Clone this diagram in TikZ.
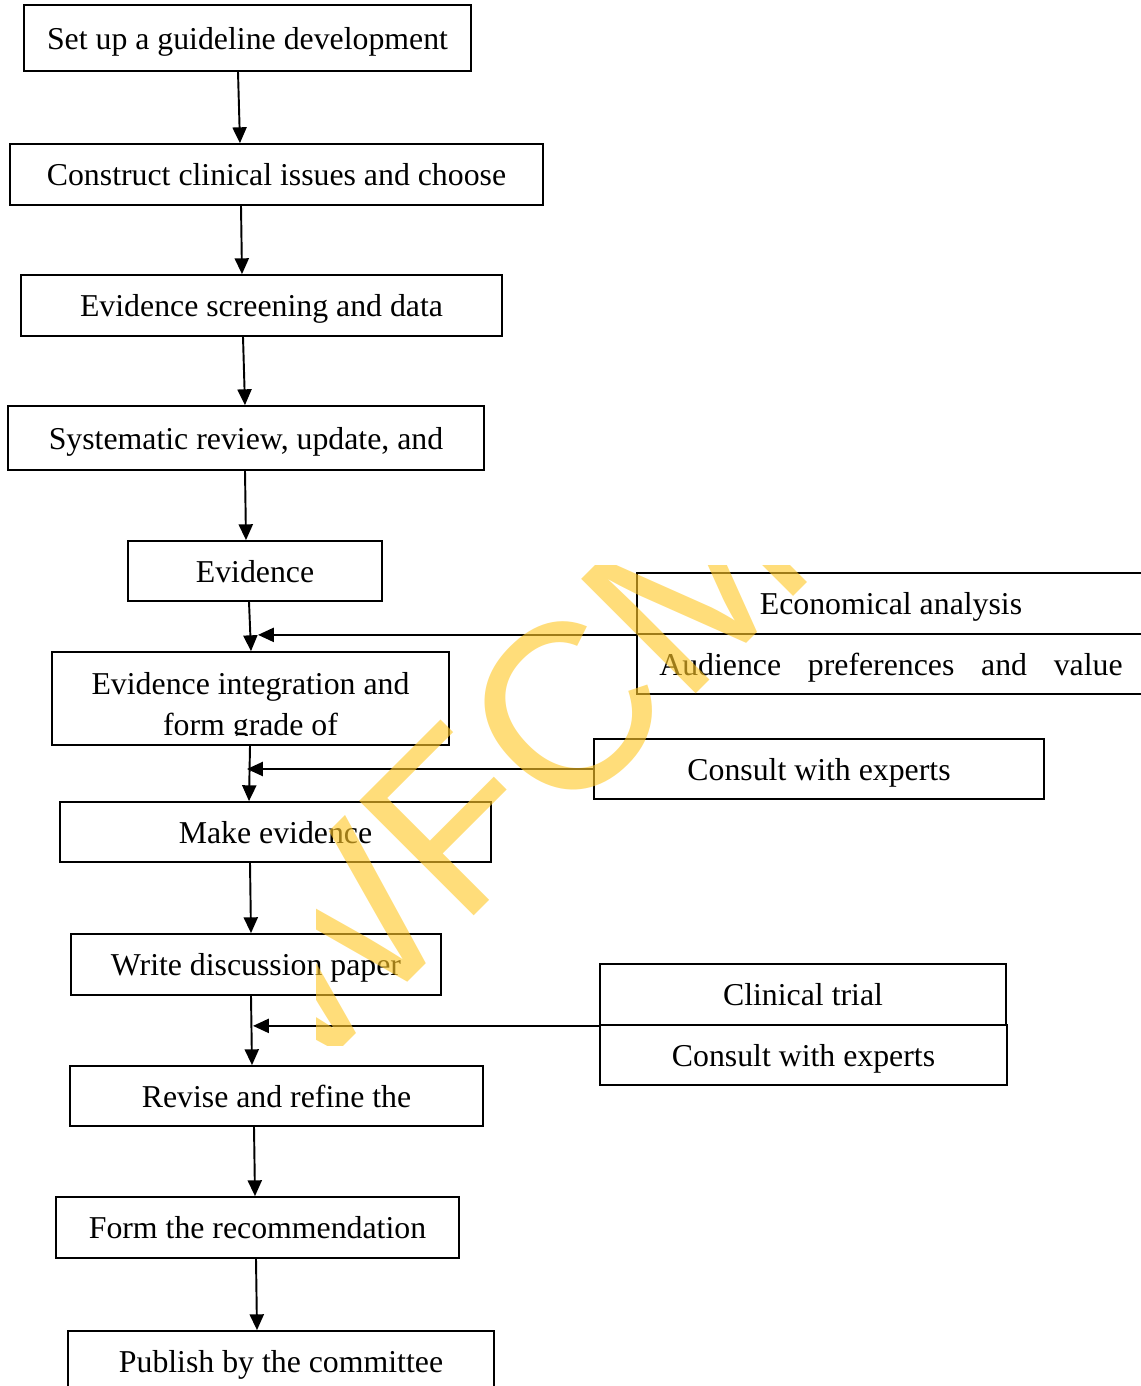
\documentclass[tikz,border=0pt]{standalone}
\usepackage{fontspec}
\setmainfont{Liberation Serif}
\newfontfamily\wmfont{Liberation Sans}
\usepackage{tikz}
\usetikzlibrary{arrows.meta}
\definecolor{wmyellow}{RGB}{255,200,40}
\newcommand{\boxfont}{\fontsize{18.1}{22}\selectfont}
\tikzset{
  box/.style={draw, line width=1pt, rectangle, inner sep=0pt,
              text height=14pt, text depth=1pt, font=\boxfont},
  txt/.style={inner sep=0pt, font=\boxfont},
  arr/.style={line width=1.1pt, -{Triangle[length=9pt,width=8pt]}},
}

\begin{document}
\begin{tikzpicture}[x=0.02cm, y=-0.02cm]
    \useasboundingbox (0,0) rectangle (1140,1386);

    % Main column
    \node[box, minimum width=8.94cm, minimum height=1.32cm] (setup) at (247.5,38) {Set up a guideline development};
    \node[box, minimum width=10.66cm, minimum height=1.22cm] (construct) at (276.5,174.5) {Construct clinical issues and choose};
    \node[box, minimum width=9.62cm, minimum height=1.22cm] (screen) at (261.5,305.5) {Evidence screening and data};
    \node[box, minimum width=9.52cm, minimum height=1.28cm] (sysrev) at (246,438) {Systematic review, update, and};
    \node[box, minimum width=5.08cm, minimum height=1.2cm] (evid) at (255,571) {Evidence};
    \node[box, minimum width=7.94cm, minimum height=1.86cm] (integ) at (250.5,698.5) {};
    \begin{scope}
      \clip (52,652) rectangle (449,735);
      \node[txt, anchor=base] (intega) at (250.5,694) {Evidence integration and};
      \node[txt, anchor=base] (integb) at (250.5,735) {form grade of};
    \end{scope}
    \node[box, minimum width=8.62cm, minimum height=1.2cm] (make) at (275.5,832) {Make evidence};
    \node[box, minimum width=7.40cm, minimum height=1.22cm] (write) at (256,964.5) {Write discussion paper};
    \node[box, minimum width=8.26cm, minimum height=1.2cm] (revise) at (276.5,1096) {Revise and refine the};
    \node[box, minimum width=8.06cm, minimum height=1.22cm] (form) at (257.5,1227.5) {Form the recommendation};
    \node[box, minimum width=8.52cm, minimum height=1.22cm] (publish) at (281,1361.5) {Publish by the committee};

    % Side boxes
    \node[box, minimum width=10.16cm, minimum height=1.22cm] (econ) at (891,603.5) {Economical analysis};
    \node[box, minimum width=10.16cm, minimum height=1.2cm] (aud) at (891,664) {\makebox[263.7pt][s]{Audience preferences and value}};
    \node[box, minimum width=9.0cm, minimum height=1.2cm] (consulta) at (819,769) {Consult with experts};
    \node[box, minimum width=8.12cm, minimum height=1.22cm] (trial) at (803,994.5) {Clinical trial};
    \node[box, minimum width=8.14cm, minimum height=1.2cm] (consultb) at (803.5,1055) {Consult with experts};

    % Down arrows
    \foreach \a/\b/\xa/\xb in {setup/construct/238/240, construct/screen/241/242,
                               screen/sysrev/243/245, sysrev/evid/245/246,
                               evid/integ/249/251, integ/make/250/249,
                               make/write/250/251, write/revise/251/252,
                               revise/form/254/255, form/publish/256/257}
      \draw[arr] (\a.south -| \xa,0) -- (\b.north -| \xb,0);

    % Side arrows
    \draw[arr] (econ.south west) -- (econ.south west -| 258,0);
    \draw[arr] (consulta.west) -- (consulta.west -| 247,0);
    \draw[arr] (trial.south west) -- (trial.south west -| 253,0);

    % Watermark
    \begin{scope}
      \clip (316,565) rectangle (1140,1045);
      \node[rotate=45, text=wmyellow, text opacity=0.62, inner sep=0pt,
            font=\fontsize{134}{134}\selectfont\wmfont] (mark) at (505,770) {WFCM};
    \end{scope}
\end{tikzpicture}
\end{document}
